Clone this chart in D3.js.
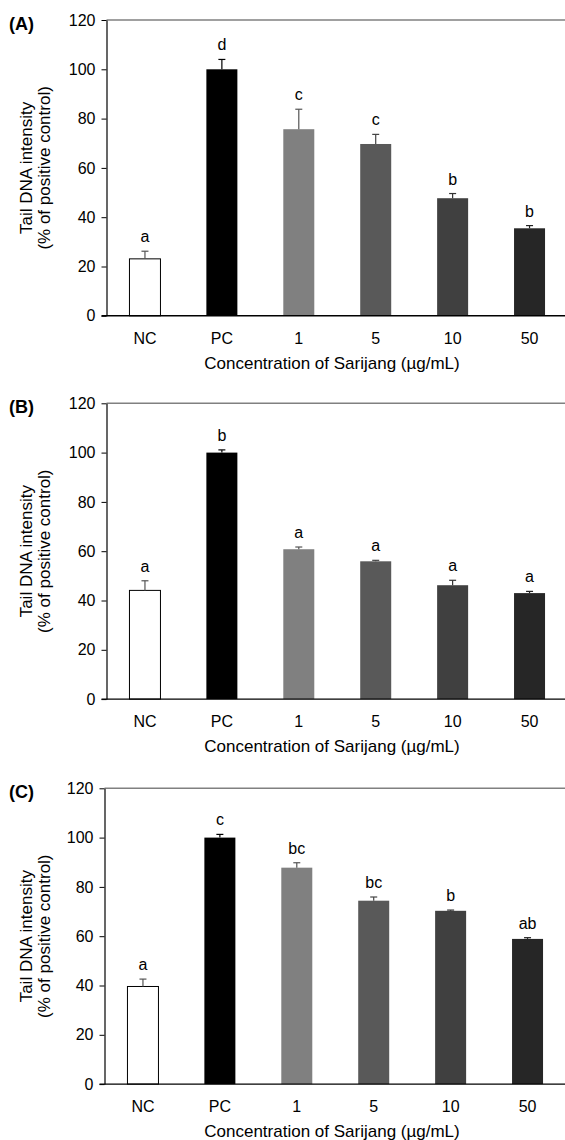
<!DOCTYPE html>
<html>
<head>
<meta charset="utf-8">
<script src="https://cdn.jsdelivr.net/npm/d3@7"></script>
<style>
  body { margin: 0; background: #fff; }
  svg { display: block; font-family: "Liberation Sans", Arial, sans-serif; }
</style>
</head>
<body>
<div id="chart"></div>
<script>
// Data (Tail DNA intensity, % of positive control)
const categories = ['NC', 'PC', '1', '5', '10', '50'];
const yTicks = [0, 20, 40, 60, 80, 100, 120];

const valuesA = [23.1, 100, 75.7, 69.7, 47.7, 35.5];
const errorsA = [3.1, 4.0, 8.1, 3.9, 1.9, 1.1];
const lettersA = ['a', 'd', 'c', 'c', 'b', 'b'];

const valuesB = [44.1, 100, 60.8, 55.9, 46.2, 43.0];
const errorsB = [3.9, 1.1, 0.9, 0.4, 2.0, 0.7];
const lettersB = ['a', 'b', 'a', 'a', 'a', 'a'];

const valuesC = [39.6, 100, 87.8, 74.4, 70.3, 58.9];
const errorsC = [3.0, 1.3, 2.0, 1.5, 0.3, 0.5];
const lettersC = ['a', 'c', 'bc', 'bc', 'b', 'ab'];

const panelLabels = ['(A)', '(B)', '(C)'];
const xTitle = 'Concentration of Sarijang (\u00b5g/mL)';
const yTitle = ['Tail DNA intensity', '(% of positive control)'];

// styles
const barColors = ['#ffffff', '#000000', '#808080', '#595959', '#404040', '#262626'];
const errColors = ['#555555', '#000000', '#555555', '#444444', '#333333', '#222222'];
const tickFont = 16, titleFont = 17;

const W = 565, H = 1140;
const panels = [
  { values: valuesA, errors: errorsA, letters: lettersA, top: 20, left: 106.5 },
  { values: valuesB, errors: errorsB, letters: lettersB, top: 403.3, left: 106.5 },
  { values: valuesC, errors: errorsC, letters: lettersC, top: 788.3, left: 104.5 }
];
const plotH = 295.8;

const svg = d3.select('#chart').append('svg')
  .attr('width', W)
  .attr('height', H);

panels.forEach((p, i) => {
  const g = svg.append('g')
    .attr('transform', 'translate(' + p.left + ',' + p.top + ')');

  const x = d3.scaleBand()
    .domain(categories)
    .range([0, 461.5])
    .paddingInner(0.597)
    .paddingOuter(0.2985);
  const y = d3.scaleLinear()
    .domain([0, 120])
    .range([plotH, 0]);

  // top frame line (gray)
  g.append('line')
    .attr('x1', 0).attr('x2', W - p.left)
    .attr('y1', y(120)).attr('y2', y(120))
    .attr('stroke', '#808080')
    .attr('stroke-width', 1.6);

  // bars
  g.selectAll('rect.bar')
    .data(p.values)
    .enter()
    .append('rect')
    .attr('class', 'bar')
    .attr('x', (d, j) => x(categories[j]))
    .attr('y', d => y(d))
    .attr('width', x.bandwidth())
    .attr('height', d => plotH - y(d))
    .attr('fill', (d, j) => barColors[j])
    .attr('stroke', (d, j) => j === 0 ? '#000' : 'none')
    .attr('stroke-width', 1);

  // upper error bars
  const cap = 3.5;
  const eb = g.selectAll('g.err')
    .data(p.values)
    .enter()
    .append('g')
    .attr('class', 'err')
    .attr('stroke', (d, j) => errColors[j])
    .attr('stroke-width', 1.2);
  eb.append('line')
    .attr('x1', (d, j) => x(categories[j]) + x.bandwidth() / 2)
    .attr('x2', (d, j) => x(categories[j]) + x.bandwidth() / 2)
    .attr('y1', d => y(d))
    .attr('y2', (d, j) => y(d + p.errors[j]));
  eb.append('line')
    .attr('x1', (d, j) => x(categories[j]) + x.bandwidth() / 2 - cap)
    .attr('x2', (d, j) => x(categories[j]) + x.bandwidth() / 2 + cap)
    .attr('y1', (d, j) => y(d + p.errors[j]))
    .attr('y2', (d, j) => y(d + p.errors[j]));

  // significance letters
  g.selectAll('text.letter')
    .data(p.values)
    .enter()
    .append('text')
    .attr('class', 'letter')
    .attr('x', (d, j) => x(categories[j]) + x.bandwidth() / 2)
    .attr('y', (d, j) => y(d + p.errors[j]) - 9)
    .attr('text-anchor', 'middle')
    .attr('font-size', tickFont)
    .text((d, j) => p.letters[j]);

  // y axis
  const yAxis = g.append('g')
    .call(d3.axisLeft(y).tickValues(yTicks).tickSize(5).tickPadding(6).tickSizeOuter(0));
  yAxis.select('.domain').attr('stroke', '#000').attr('stroke-width', 1.2);
  yAxis.selectAll('.tick line').attr('stroke', '#000');
  yAxis.selectAll('text')
    .attr('font-family', '"Liberation Sans", Arial, sans-serif')
    .attr('font-size', tickFont)
    .attr('fill', '#000');

  // x axis
  const xAxis = g.append('g')
    .attr('transform', 'translate(0,' + plotH + ')')
    .call(d3.axisBottom(x).tickSize(0).tickPadding(17));
  xAxis.select('.domain').remove();
  xAxis.selectAll('text')
    .attr('font-family', '"Liberation Sans", Arial, sans-serif')
    .attr('font-size', tickFont)
    .attr('fill', '#000');
  g.append('line')
    .attr('x1', -5).attr('x2', W - p.left)
    .attr('y1', plotH).attr('y2', plotH)
    .attr('stroke', '#000')
    .attr('stroke-width', 1.4);

  // x axis title
  g.append('text')
    .attr('x', 332 - p.left)
    .attr('y', plotH + 53)
    .attr('text-anchor', 'middle')
    .attr('font-size', titleFont)
    .text(xTitle);

  // y axis title (two lines)
  yTitle.forEach((t, k) => {
    g.append('text')
      .attr('transform', 'translate(' + (-p.left + 32 + k * 18) + ',' + (plotH / 2) + ') rotate(-90)')
      .attr('text-anchor', 'middle')
      .attr('font-size', titleFont)
      .text(t);
  });

  // panel label
  svg.append('text')
    .attr('x', 9)
    .attr('y', p.top + 10)
    .attr('font-size', 18)
    .attr('font-weight', 'bold')
    .text(panelLabels[i]);
});
</script>
</body>
</html>
